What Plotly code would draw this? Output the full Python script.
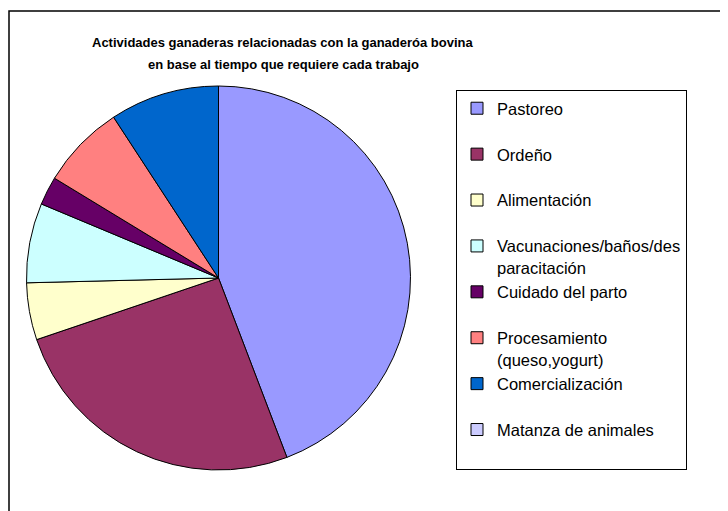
import plotly.graph_objects as go

# the page has an 8px body margin, so the figure is drawn 8px smaller
W, H = 720, 503

labels = [
    "Pastoreo",
    "Ordeño",
    "Alimentación",
    "Vacunaciones/baños/des<br>paracitación",
    "Cuidado del parto",
    "Procesamiento<br>(queso,yogurt)",
    "Comercialización",
    "Matanza de animales",
]
values = [44.2, 25.6, 4.8, 6.7, 2.4, 7.1, 9.2, 0]
colors = ["#9999FF", "#993366", "#FFFFCC", "#CCFFFF",
          "#660066", "#FF8080", "#0066CC", "#CCCCFF"]

# every legend entry is two lines tall, like the original
legend_labels = [l if "<br>" in l else l + "<br> " for l in labels]

FONT = "Arial, Liberation Sans, sans-serif"

fig = go.Figure(
    go.Pie(
        labels=legend_labels,
        values=values,
        marker=dict(colors=colors, line=dict(color="black", width=1)),
        sort=False,
        direction="clockwise",
        rotation=0,
        textinfo="none",
        hoverinfo="label+percent",
        domain=dict(x=[18.5 / W, 402.5 / W], y=[1 - 462 / H, 1 - 78 / H]),
    )
)

fig.update_layout(
    width=W,
    height=H,
    margin=dict(l=0, r=0, t=0, b=0),
    paper_bgcolor="white",
    font=dict(family=FONT, color="black"),
    legend=dict(
        x=448 / W, y=1 - 82 / H, xanchor="left", yanchor="top",
        bordercolor="black", borderwidth=1, bgcolor="white",
        font=dict(size=16.5, family=FONT),
        valign="top",
    ),
    shapes=[
        dict(type="rect", xref="paper", yref="paper",
             x0=1 / W, y0=1 - 3 / H, x1=1.02, y1=-0.02,
             line=dict(color="black", width=1.5)),
    ],
    annotations=[
        dict(text="<b>Actividades ganaderas relacionadas con la ganaderóa bovina</b>",
             x=275 / W, y=1 - 25 / H, xref="paper", yref="paper",
             showarrow=False, font=dict(size=13)),
        dict(text="<b>en base al tiempo que requiere cada trabajo</b>",
             x=275 / W, y=1 - 47 / H, xref="paper", yref="paper",
             showarrow=False, font=dict(size=13)),
    ],
)

fig.write_html("out.html")
